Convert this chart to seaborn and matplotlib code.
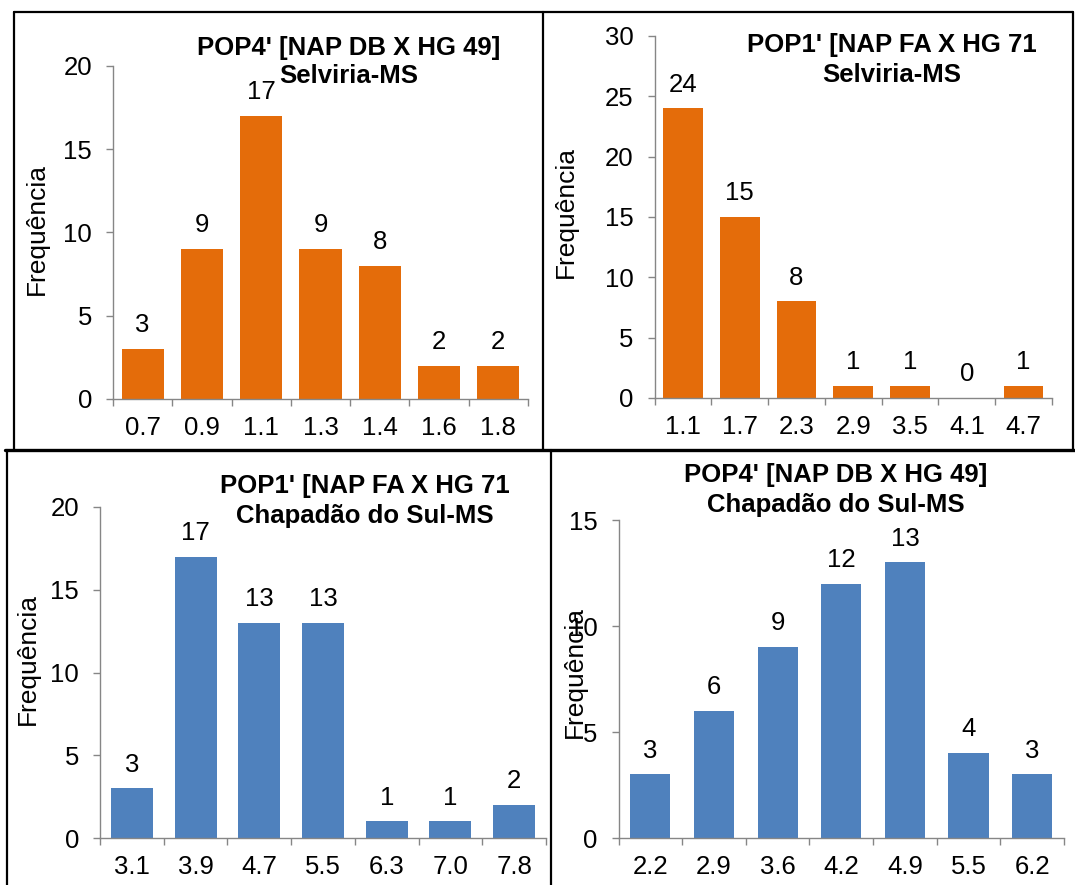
import numpy as np
import matplotlib
matplotlib.use("Agg")
import matplotlib.pyplot as plt
from matplotlib.lines import Line2D
from matplotlib.ticker import FixedLocator
import seaborn as sns

# ---------------- data ----------------
tl_cats = ["0.7", "0.9", "1.1", "1.3", "1.4", "1.6", "1.8"]
tl_vals = [3, 9, 17, 9, 8, 2, 2]
tl_title = ["POP4' [NAP DB X HG 49]", "Selviria-MS"]

tr_cats = ["1.1", "1.7", "2.3", "2.9", "3.5", "4.1", "4.7"]
tr_vals = [24, 15, 8, 1, 1, 0, 1]
tr_title = ["POP1' [NAP FA X HG 71", "Selviria-MS"]

bl_cats = ["3.1", "3.9", "4.7", "5.5", "6.3", "7.0", "7.8"]
bl_vals = [3, 17, 13, 13, 1, 1, 2]
bl_title = ["POP1' [NAP FA X HG 71", "Chapadão do Sul-MS"]

br_cats = ["2.2", "2.9", "3.6", "4.2", "4.9", "5.5", "6.2"]
br_vals = [3, 6, 9, 12, 13, 4, 3]
br_title = ["POP4' [NAP DB X HG 49]", "Chapadão do Sul-MS"]

ylabel = "Frequência"

# ---------------- style ----------------
sns.set_theme(style="white")
plt.rcParams['font.family'] = ['Liberation Sans', 'DejaVu Sans']

ORANGE = "#E46C0A"
BLUE = "#4F81BD"
GREY = "#868686"
FS = 18.5

W, H = 1075, 885
fig = plt.figure(figsize=(W / 100, H / 100), dpi=100)
fig.patch.set_facecolor("white")


def fx(px):
    return px / W


def fy(py):
    return 1 - py / H


def panel(cats, vals, color, box, ymax, ystep, width, title, title_x, title_y, ylab_xy):
    left, right, y0, ytop = box
    ax = fig.add_axes([fx(left), fy(y0), fx(right - left), (y0 - ytop) / H])
    sns.barplot(x=cats, y=vals, color=color, saturation=1, width=width,
                linewidth=0, ax=ax)
    ax.set_xlim(-0.5, len(cats) - 0.5)
    ax.set_ylim(0, ymax)
    ax.set_yticks(np.arange(0, ymax + 0.1, ystep))
    ax.xaxis.set_minor_locator(FixedLocator(np.arange(-0.5, len(cats), 1.0)))
    for s in ("top", "right"):
        ax.spines[s].set_visible(False)
    for s in ("left", "bottom"):
        ax.spines[s].set_color(GREY)
        ax.spines[s].set_linewidth(1.0)
    ax.tick_params(axis="x", which="major", length=0, pad=12, labelsize=FS,
                   colors="black")
    ax.tick_params(axis="x", which="minor", length=5, width=1.0, color=GREY,
                   bottom=True, direction="out")
    ax.tick_params(axis="y", which="major", length=5, width=1.0, color=GREY,
                   left=True, direction="out", pad=10, labelsize=FS,
                   labelcolor="black")
    ax.set_xlabel("")
    ax.set_ylabel("")
    ax.set_facecolor("none")
    ax.bar_label(ax.containers[0], labels=[str(v) for v in vals],
                 padding=8.5, fontsize=FS, color="black")
    for line, ty in zip(title, title_y):
        fig.text(fx(title_x), fy(ty), line, ha="center", va="baseline",
                 fontsize=FS, fontweight="bold", color="black")
    fig.text(fx(ylab_xy[0]), fy(ylab_xy[1]), ylabel, rotation=90,
             ha="center", va="center", fontsize=FS + 0.5, color="black")
    return ax


panel(tl_cats, tl_vals, ORANGE, (113, 528, 399, 66), 20, 5, 0.71,
      tl_title, 349, (55, 83), (37, 229))
panel(tr_cats, tr_vals, ORANGE, (654.5, 1052, 398, 36), 30, 5, 0.70,
      tr_title, 892, (52, 82), (566, 212))
panel(bl_cats, bl_vals, BLUE, (100, 546, 838, 507), 20, 5, 0.66,
      bl_title, 365, (493, 523), (28, 659))
panel(br_cats, br_vals, BLUE, (618.5, 1064, 838, 520), 15, 5, 0.63,
      br_title, 836, (482, 512), (575, 672))

# ---------------- panel frames ----------------
def seg(x1, y1, x2, y2, lw=1.6):
    fig.add_artist(Line2D([fx(x1), fx(x2)], [fy(y1), fy(y2)], color="black",
                          lw=lw, transform=fig.transFigure))

# top-left frame
seg(14, 12, 543, 12)
seg(14, 12, 14, 449)
seg(543, 12, 543, 449)
# top-right frame
seg(543, 12, 1073, 12)
seg(1073, 12, 1073, 450)
# separator under top row
seg(5, 450, 1075, 450, lw=2.4)
# bottom-left frame
seg(7, 450, 7, 885)
seg(551, 450, 551, 885)

fig.savefig("out.png", dpi=100, facecolor="white")
